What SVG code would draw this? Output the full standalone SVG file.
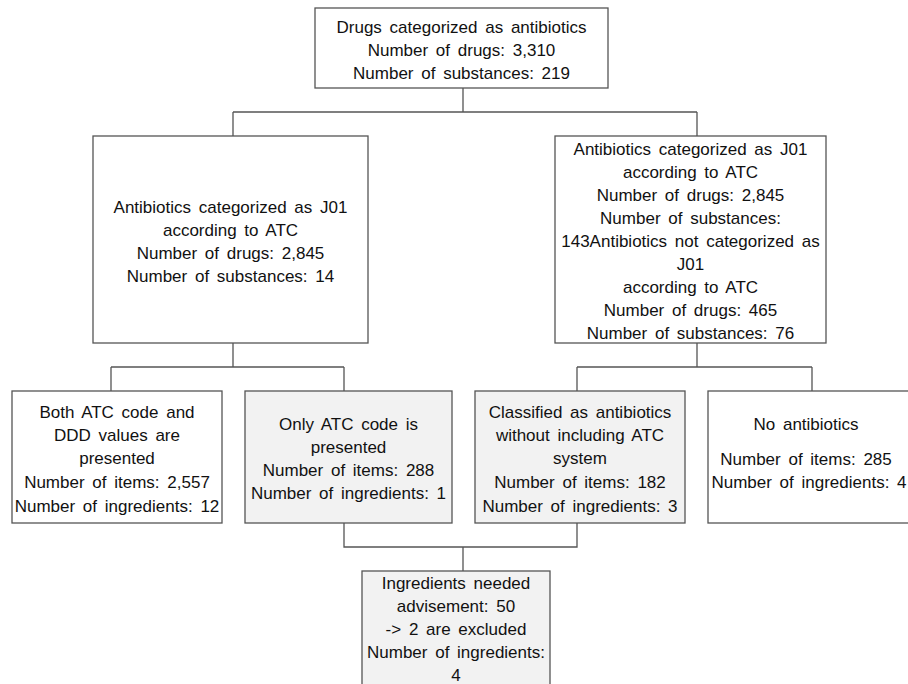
<svg xmlns="http://www.w3.org/2000/svg" width="908" height="684" viewBox="0 0 908 684">
<style>
.box{fill:#ffffff;stroke:#555;stroke-width:1.3}
.gray{fill:#f2f2f2}
.t{font-family:"Liberation Sans",Arial,sans-serif;font-size:17px;fill:#111;text-anchor:middle;word-spacing:3px}
.c{fill:none;stroke:#555;stroke-width:1.3}
</style>
<rect width="908" height="684" fill="#ffffff"/>
<g id="connectors">
<path class="c" d="M463 88V112M233 112H697M233 112V136M697 112V136"/>
<path class="c" d="M233 343V367M111 367H344M111 367V391M344 367V391"/>
<path class="c" d="M697 343V367M577 367H812M577 367V391M812 367V391"/>
<path class="c" d="M344 523V547H577V523M463 547V571"/>
</g>
<g id="n-top">
<rect class="box" x="315" y="8" width="293" height="80"/>
<text class="t" x="461.5" y="33">Drugs categorized as antibiotics</text>
<text class="t" x="461.5" y="56">Number of drugs: 3,310</text>
<text class="t" x="461.5" y="79">Number of substances: 219</text>
</g>
<g id="n-left">
<rect class="box" x="93" y="136" width="275" height="207"/>
<text class="t" x="230.5" y="213">Antibiotics categorized as J01</text>
<text class="t" x="230.5" y="236">according to ATC</text>
<text class="t" x="230.5" y="259">Number of drugs: 2,845</text>
<text class="t" x="230.5" y="282">Number of substances: 14</text>
</g>
<g id="n-right">
<rect class="box" x="555" y="136" width="271" height="207"/>
<text class="t" x="690.5" y="155">Antibiotics categorized as J01</text>
<text class="t" x="690.5" y="178">according to ATC</text>
<text class="t" x="690.5" y="201">Number of drugs: 2,845</text>
<text class="t" x="690.5" y="224">Number of substances:</text>
<text class="t" x="690.5" y="247">143Antibiotics not categorized as</text>
<text class="t" x="690.5" y="270">J01</text>
<text class="t" x="690.5" y="293">according to ATC</text>
<text class="t" x="690.5" y="316">Number of drugs: 465</text>
<text class="t" x="690.5" y="339">Number of substances: 76</text>
</g>
<g id="n-both">
<rect class="box" x="12" y="391" width="210" height="132"/>
<text class="t" x="117" y="418">Both ATC code and</text>
<text class="t" x="117" y="441">DDD values are</text>
<text class="t" x="117" y="464">presented</text>
<text class="t" x="117" y="488">Number of items: 2,557</text>
<text class="t" x="117" y="512">Number of ingredients: 12</text>
</g>
<g id="n-only">
<rect class="box gray" x="245" y="391" width="207" height="132"/>
<text class="t" x="348.5" y="430">Only ATC code is</text>
<text class="t" x="348.5" y="453">presented</text>
<text class="t" x="348.5" y="476">Number of items: 288</text>
<text class="t" x="348.5" y="499">Number of ingredients: 1</text>
</g>
<g id="n-classified">
<rect class="box gray" x="475" y="391" width="210" height="132"/>
<text class="t" x="580" y="418">Classified as antibiotics</text>
<text class="t" x="580" y="441">without including ATC</text>
<text class="t" x="580" y="464">system</text>
<text class="t" x="580" y="488">Number of items: 182</text>
<text class="t" x="580" y="512">Number of ingredients: 3</text>
</g>
<g id="n-noanti">
<rect class="box" x="708" y="391" width="215" height="132"/>
<text class="t" x="806" y="430">No antibiotics</text>
<text class="t" x="806" y="465">Number of items: 285</text>
<text class="t" x="809" y="488">Number of ingredients: 4</text>
</g>
<g id="n-ingredients">
<rect class="box gray" x="362" y="571" width="188" height="130"/>
<text class="t" x="456" y="589">Ingredients needed</text>
<text class="t" x="456" y="612">advisement: 50</text>
<text class="t" x="456" y="635">-&gt; 2 are excluded</text>
<text class="t" x="456" y="658">Number of ingredients:</text>
<text class="t" x="456" y="681">4</text>
</g>
</svg>
